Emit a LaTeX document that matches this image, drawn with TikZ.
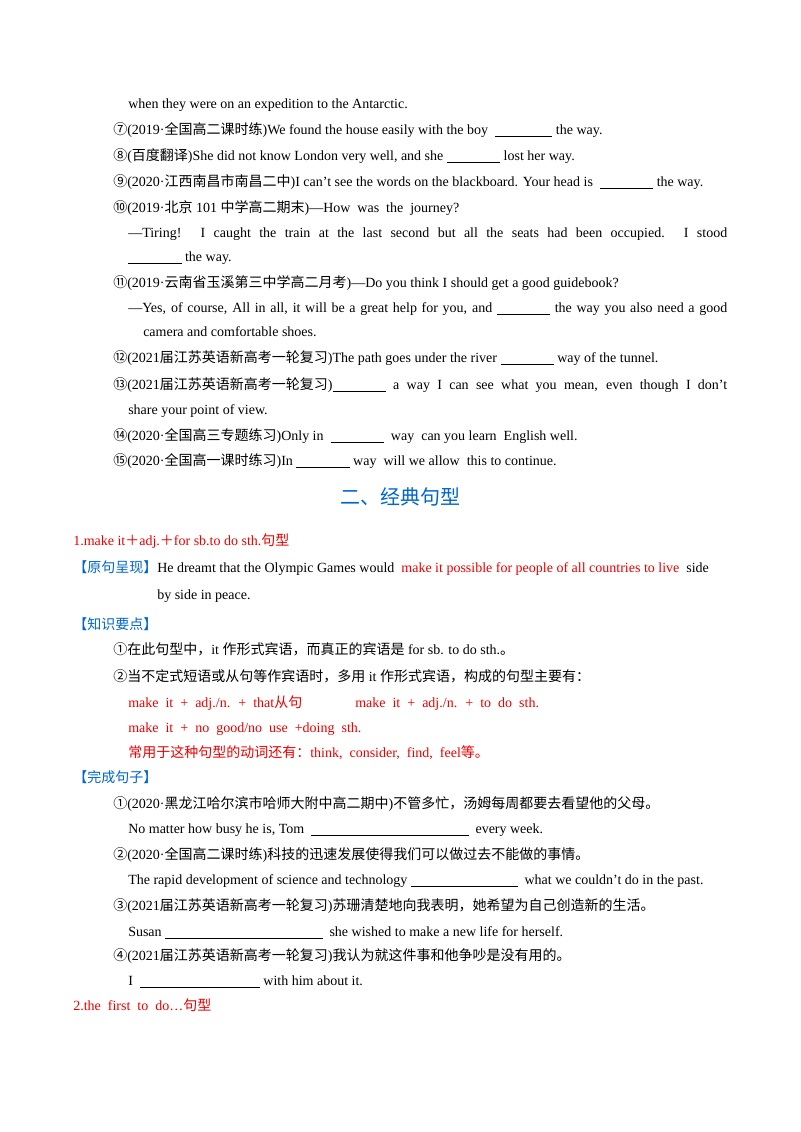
\documentclass[tikz,border=0pt]{standalone}
\usepackage{fontspec}
\setmainfont{Liberation Serif}
\newfontfamily\cjk{Noto Sans CJK SC}
\newcommand{\zh}[1]{{\cjk #1}}
\newcommand{\bl}[1]{\underline{\makebox[#1]{}}}
\definecolor{rd}{RGB}{235,0,0}
\definecolor{bu}{RGB}{0,102,204}
\begin{document}
\begin{tikzpicture}[x=0.75pt,y=-0.75pt,
  t/.style={anchor=base west,inner sep=0pt,font=\fontsize{10.5}{12}\selectfont},
  r/.style={t,text=rd},
  h/.style={t,text=bu}]
\useasboundingbox (0,0) rectangle (800,1132);
\fill[white] (0,0) rectangle (800,1132);
\node[t] (l1) at (128,108) {when they were on an expedition to the Antarctic.};
\node[t] (l2) at (113,134) {\zh{⑦}(2019·\zh{全国高二课时练})We found the house easily with the boy \ \bl{43pt} the way.};
\node[t] (l3) at (113,160) {\zh{⑧}(\zh{百度翻译})She did not know London very well, and she \bl{40pt} lost her way.};
\node[t] (l4) at (113,186) {\zh{⑨}(2020·\zh{江西南昌市南昌二中})I can't see the words on the blackboard. Your head is \ \bl{40pt} the way.};
\node[t] (l5) at (113,212) {\zh{⑩}(2019·\zh{北京} 101 \zh{中学高二期末})---How \ was \ the \ journey?};
\node[t] (l6) at (128,237) {\makebox[449.25pt][s]{---Tiring! I caught the train at the last second but all the seats had been occupied. I stood}};
\node[t] (l7) at (128,261) {\bl{40pt} the way.};
\node[t] (l8) at (113,287) {\zh{⑪}(2019·\zh{云南省玉溪第三中学高二月考})---Do you think I should get a good guidebook?};
\node[t] (l9) at (128,312) {\makebox[449.25pt][s]{---Yes, of course, All in all, it will be a great help for you, and \bl{40pt} the way you also need a good}};
\node[t] (l10) at (143,336) {camera and comfortable shoes.};
\node[t] (l11) at (113,362) {\zh{⑫}(2021\zh{届江苏英语新高考一轮复习})The path goes under the river \bl{40pt} way of the tunnel.};
\node[t] (l12) at (113,389) {\makebox[460.5pt][s]{\zh{⑬}(2021\zh{届江苏英语新高考一轮复习})\bl{40pt} a way I can see what you mean, even though I don't}};
\node[t] (l13) at (128,414) {share your point of view.};
\node[t] (l14) at (113,440) {\zh{⑭}(2020·\zh{全国高三专题练习})Only in \ \bl{40pt} \ way \ can you learn \ English well.};
\node[t] (l15) at (113,465) {\zh{⑮}(2020·\zh{全国高一课时练习})In \bl{40pt} way \ will we allow \ this to continue.};
\node[anchor=center,inner sep=0pt,text=bu,font=\fontsize{15}{18}\selectfont\cjk] (title) at (400,497) {二、经典句型};
\node[r] (s1) at (73,545) {1.make it\zh{＋}adj.\zh{＋}for sb.to do sth.\zh{句型}};
\node[t] (s2) at (73,572) {\textcolor{bu}{\zh{【原句呈现】}}He dreamt that the Olympic Games would \ \textcolor{rd}{make it possible for people of all countries to live} \ side};
\node[t] (s3) at (157,599) {by side in peace.};
\node[h] (s4) at (73,629) {\zh{【知识要点】}};
\node[t] (s5) at (113,654) {\zh{①在此句型中，}it \zh{作形式宾语，而真正的宾语是} for sb. to do sth.\zh{。}};
\node[t] (s6) at (113,681) {\zh{②当不定式短语或从句等作宾语时，多用} it \zh{作形式宾语，构成的句型主要有：}};
\node[r] (s7) at (128,707) {make \ it \ + \ adj./n. \ + \ that\zh{从句}};
\node[r] (s7b) at (355,707) {make \ it \ + \ adj./n. \ + \ to \ do \ sth.};
\node[r] (s8) at (128,732) {make \ it \ + \ no \ good/no \ use \ +doing \ sth.};
\node[r] (s9) at (128,757) {\zh{常用于这种句型的动词还有：}think, \ consider, \ find, \ feel\zh{等。}};
\node[h] (s10) at (73,782) {\zh{【完成句子】}};
\node[t] (s11) at (113,808) {\zh{①}(2020·\zh{黑龙江哈尔滨市哈师大附中高二期中})\zh{不管多忙，汤姆每周都要去看望他的父母。}};
\node[t] (s12) at (128,833) {No matter how busy he is, Tom \ \bl{118pt} \ every week.};
\node[t] (s13) at (113,859) {\zh{②}(2020·\zh{全国高二课时练})\zh{科技的迅速发展使得我们可以做过去不能做的事情。}};
\node[t] (s14) at (128,884) {The rapid development of science and technology \bl{80pt} \ what we couldn't do in the past.};
\node[t] (s15) at (113,910) {\zh{③}(2021\zh{届江苏英语新高考一轮复习})\zh{苏珊清楚地向我表明，她希望为自己创造新的生活。}};
\node[t] (s16) at (128,936) {Susan \bl{118pt} \ she wished to make a new life for herself.};
\node[t] (s17) at (113,960) {\zh{④}(2021\zh{届江苏英语新高考一轮复习})\zh{我认为就这件事和他争吵是没有用的。}};
\node[t] (s18) at (128,985) {I \ \bl{90pt} with him about it.};
\node[r] (s19) at (73,1010) {2.the \ first \ to \ do\ldots\zh{句型}};
\end{tikzpicture}
\end{document}
